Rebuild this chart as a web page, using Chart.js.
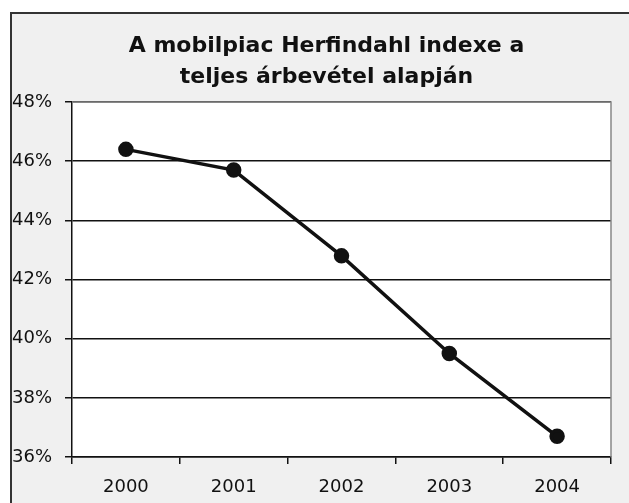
<!DOCTYPE html>
<html>
<head>
<meta charset="utf-8">
<script src="https://cdn.jsdelivr.net/npm/chart.js@4/dist/chart.umd.min.js"></script>
<style>
html,body{margin:0;padding:0;background:#ffffff;}
#wrap{width:629px;height:503px;}
</style>
</head>
<body>
<div id="wrap"><canvas id="c" width="629" height="503"></canvas></div>
<script>
const categories = ['2000', '2001', '2002', '2003', '2004'];
const herfindahl = [46.4, 45.7, 42.8, 39.5, 36.7];
const titleLines = ['A mobilpiac Herfindahl indexe a', 'teljes árbevétel alapján'];
const yMin = 36, yMax = 48, yStep = 2;

const bgPlugin = {
  id: 'bg',
  afterLayout(chart) {
    const t = chart.titleBlock;
    if (t) { t.left += 15; t.right += 15; }
  },
  beforeDraw(chart) {
    const ctx = chart.ctx, a = chart.chartArea;
    ctx.save();
    ctx.fillStyle = '#ffffff';
    ctx.fillRect(0, 0, chart.width, chart.height);
    ctx.fillStyle = '#f0f0f0';
    ctx.fillRect(11, 13, 640, 520);
    ctx.strokeStyle = '#333';
    ctx.lineWidth = 2;
    ctx.strokeRect(11, 13, 640, 520);
    ctx.fillStyle = '#ffffff';
    ctx.fillRect(a.left, a.top, a.right - a.left, a.bottom - a.top);
    ctx.restore();
  },
  afterDraw(chart) {
    const ctx = chart.ctx, a = chart.chartArea;
    ctx.save();
    ctx.strokeStyle = '#888';
    ctx.lineWidth = 1.5;
    ctx.beginPath();
    ctx.moveTo(a.left, a.top);
    ctx.lineTo(a.right, a.top);
    ctx.lineTo(a.right, a.bottom);
    ctx.stroke();
    ctx.restore();
  }
};

new Chart(document.getElementById('c'), {
  type: 'line',
  data: {
    labels: categories,
    datasets: [{
      data: herfindahl,
      borderColor: '#111',
      backgroundColor: '#111',
      borderWidth: 3.5,
      pointRadius: 6,
      pointHoverRadius: 6,
      pointBackgroundColor: '#111',
      pointBorderColor: '#111',
      tension: 0
    }]
  },
  options: {
    responsive: false,
    animation: false,
    devicePixelRatio: 1,
    layout: { padding: { left: 12, right: 18, top: 31, bottom: 6 } },
    plugins: {
      legend: { display: false },
      tooltip: { enabled: false },
      title: {
        display: true,
        text: titleLines,
        color: '#111',
        font: { family: 'DejaVu Sans', size: 22, weight: 'bold', lineHeight: 1.41 },
        padding: { top: 0, bottom: 9 }
      }
    },
    scales: {
      x: {
        offset: true,
        grid: { display: true, offset: true, drawOnChartArea: false, color: '#111', tickLength: 7, lineWidth: 1.5 },
        border: { display: true, color: '#111', width: 1.5 },
        ticks: { color: '#111', font: { family: 'DejaVu Sans', size: 18 }, padding: 13 },
        afterFit(s) { s.height = 40; }
      },
      y: {
        min: yMin, max: yMax,
        grid: { color: '#111', tickLength: 7, lineWidth: 1.5 },
        border: { display: true, color: '#111', width: 1.5 },
        ticks: {
          stepSize: yStep, color: '#111', crossAlign: 'far', padding: 4,
          font: { family: 'DejaVu Sans', size: 18 },
          callback: v => v + '%'
        },
        afterFit(s) { s.width = 60; }
      }
    }
  },
  plugins: [bgPlugin]
});
</script>
</body>
</html>
